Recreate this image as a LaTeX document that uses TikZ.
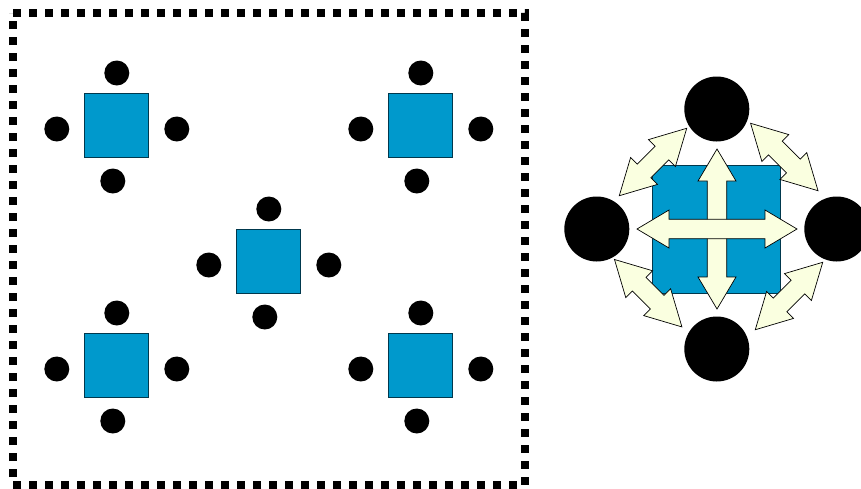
\documentclass[tikz,border=0pt]{standalone}
\definecolor{boxblue}{HTML}{0099CC}
\definecolor{boxedge}{HTML}{00384D}
\definecolor{arrowfill}{HTML}{FAFFE0}
\tikzset{
  smalldot/.style={circle,fill=black,draw=none,minimum size=25pt,inner sep=0pt,outer sep=0pt},
  bigdot/.style={circle,fill=black,draw=none,minimum size=65pt,inner sep=0pt,outer sep=0pt},
  smallbox/.style={rectangle,fill=boxblue,draw=boxedge,line width=0.8pt,minimum size=64pt,inner sep=0pt,outer sep=0pt},
  bigbox/.style={rectangle,fill=boxblue,draw=boxedge,line width=0.8pt,minimum size=128pt,inner sep=0pt,outer sep=0pt},
  dblarrow/.style={fill=arrowfill,draw=black,line width=0.7pt,line join=miter},
  frame/.style={draw=black,line width=8pt,dash pattern=on 8pt off 8pt}
}
% centre x, centre y, angle, half length, head length
\newcommand{\twoway}[5]{%
  \begin{scope}[shift={(#1,#2)},rotate=#3]
    \draw[dblarrow] (-#4,0) -- (-#4+#5,19) -- (-#4+#5,9.7) -- (#4-#5,9.7) -- (#4-#5,19)
      -- (#4,0) -- (#4-#5,-19) -- (#4-#5,-9.7) -- (-#4+#5,-9.7) -- (-#4+#5,-19) -- cycle;
  \end{scope}}
\newcommand{\station}[3]{%
  \begin{scope}[shift={(#2,#3)}]
    \node[smallbox] (#1box) at (116.6,125) {};
    \node[smalldot] (#1t) at (116.8,73) {};
    \node[smalldot] (#1l) at (56.8,129) {};
    \node[smalldot] (#1r) at (176.8,129) {};
    \node[smalldot] (#1b) at (112.8,181) {};
  \end{scope}}
\begin{document}
\begin{tikzpicture}[x=1pt,y=-1pt]
\useasboundingbox (0,0) rectangle (861,488);
\clip (0,0) rectangle (861,488);
\draw[frame] (13,13) -- (525,13) -- (525,485) -- (13,485) -- cycle;
\station{a}{0}{0}
\station{b}{304}{0}
\station{c}{152}{136}
\station{d}{0}{240}
\station{e}{304}{240}
\node[bigbox] (main) at (716.7,229) {};
\node[bigdot] (top) at (716.8,109) {};
\node[bigdot] (left) at (596.8,229) {};
\node[bigdot] (right) at (836.8,229) {};
\node[bigdot] (bottom) at (716.8,349) {};
\twoway{653}{162}{45}{47.7}{35}
\twoway{784.3}{157}{-45}{47.7}{35}
\twoway{648.2}{293.2}{-45}{47.7}{35}
\twoway{789}{296}{45}{47.7}{35}
\twoway{717}{229}{90}{80}{32}
\twoway{717}{229}{0}{80}{32}
\end{tikzpicture}
\end{document}
